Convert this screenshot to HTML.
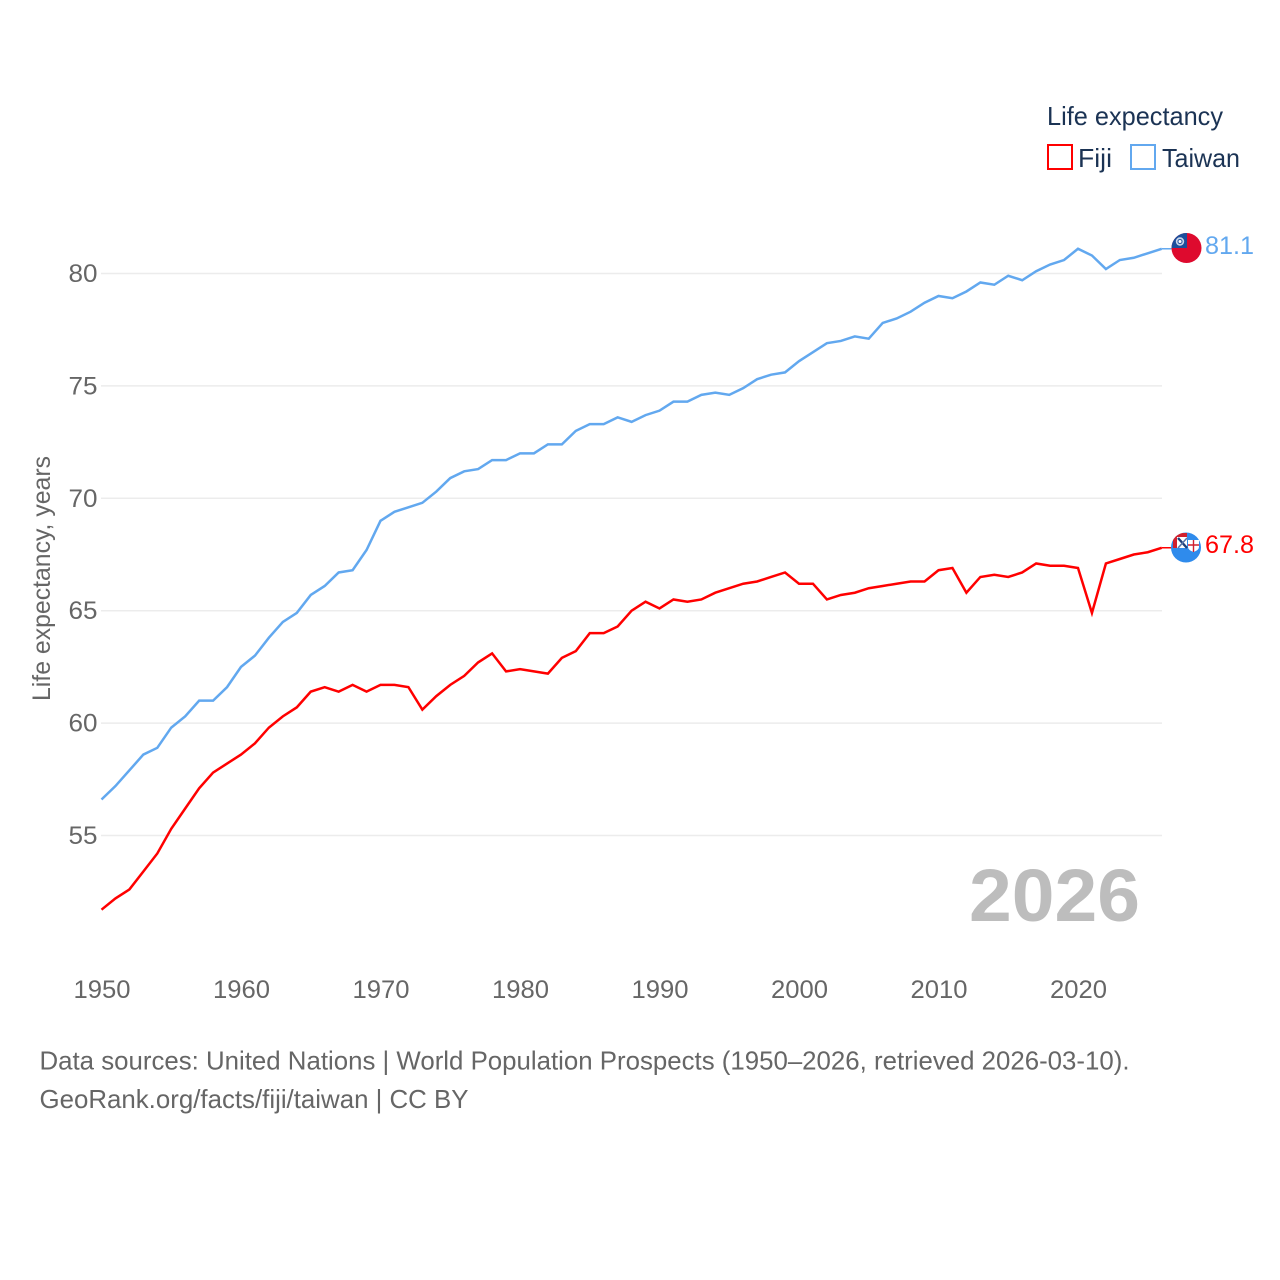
<!DOCTYPE html>
<html lang="en">
<head>
<meta charset="utf-8">
<title>Life expectancy: Fiji and Taiwan</title>
<style>
html,body{margin:0;padding:0;background:#fff;}
svg{display:block;}
text{font-family:"Liberation Sans",sans-serif;}
</style>
</head>
<body>
<svg id="chart" xmlns="http://www.w3.org/2000/svg" width="1280" height="1280" viewBox="0 0 1280 1280">
  <rect x="0" y="0" width="1280" height="1280" fill="#ffffff"/>
  <defs>
    <clipPath id="clip-taiwan"><circle cx="1186.5" cy="248" r="15"/></clipPath>
    <clipPath id="clip-fiji"><circle cx="1186" cy="547.5" r="15"/></clipPath>
  </defs>
  <g id="grid"></g>
  <g id="y-ticks"></g>
  <g id="x-ticks"></g>
  <text transform="translate(50,701) rotate(-90)" font-size="25" fill="#666666" textLength="245" lengthAdjust="spacingAndGlyphs">Life expectancy, years</text>
  <text x="969" y="921" font-size="74" font-weight="700" fill="#bdbdbd" textLength="171" lengthAdjust="spacingAndGlyphs">2026</text>
  <g id="series"></g>

  <g clip-path="url(#clip-taiwan)">
    <rect x="1171" y="233" width="31" height="31" fill="#de0a2e"/>
    <rect x="1171" y="233" width="16" height="15" fill="#1c4f9c"/>
    <circle cx="1180" cy="241.5" r="4.2" fill="#c9d6ea"/>
    <circle cx="1180" cy="241.5" r="2.6" fill="#2a5aa4"/>
    <circle cx="1180" cy="241.5" r="1.5" fill="#ffffff"/>
  </g>
  <g clip-path="url(#clip-fiji)">
    <rect x="1170" y="532" width="32" height="32" fill="#2f8bec"/>
    <rect x="1173" y="533" width="14" height="15" fill="#ffffff"/>
    <rect x="1173" y="533" width="14" height="4" fill="#d0202e"/>
    <rect x="1173" y="533" width="4" height="15" fill="#d0202e"/>
    <path d="M1178 538 L1187 548" stroke="#1d3f7a" stroke-width="2.4" fill="none"/>
    <path d="M1187 538 L1178 548" stroke="#5a76a8" stroke-width="1.6" fill="none"/>
    <path d="M1188 540 h11 v7 q0 3 -5.500 5 q-5.500 -2 -5.500 -5 z" fill="#ffffff"/>
    <path d="M1193.500 540 v12 M1188 545 h11" stroke="#d0202e" stroke-width="1.4" fill="none"/>
  </g>

  <text x="1205" y="254" font-size="25" fill="#62a8ef" textLength="49" lengthAdjust="spacingAndGlyphs">81.1</text>
  <text x="1205" y="553" font-size="25" fill="#ff0000" textLength="49" lengthAdjust="spacingAndGlyphs">67.8</text>

  <g>
    <text x="1047" y="125" font-size="26" fill="#1b3354" textLength="176" lengthAdjust="spacingAndGlyphs">Life expectancy</text>
    <g>
      <rect x="1048" y="145" width="24" height="24" fill="#ffffff" stroke="#ff0000" stroke-width="2"/>
      <text x="1078" y="167" font-size="26" fill="#1b3354" textLength="34" lengthAdjust="spacingAndGlyphs">Fiji</text>
    </g>
    <g>
      <rect x="1131" y="145" width="24" height="24" fill="#ffffff" stroke="#62a8ef" stroke-width="2"/>
      <text x="1162" y="167" font-size="26" fill="#1b3354" textLength="78" lengthAdjust="spacingAndGlyphs">Taiwan</text>
    </g>
  </g>

  <text x="39.500" y="1069.500" font-size="26" fill="#666666" textLength="1090" lengthAdjust="spacingAndGlyphs">Data sources: United Nations | World Population Prospects (1950–2026, retrieved 2026-03-10).</text>
  <text x="39.500" y="1108" font-size="26" fill="#666666" textLength="429" lengthAdjust="spacingAndGlyphs">GeoRank.org/facts/fiji/taiwan | CC BY</text>
</svg>
<script>
const startYear = 1950;
const yTickValues = [55, 60, 65, 70, 75, 80];
const xTickYears = [1950, 1960, 1970, 1980, 1990, 2000, 2010, 2020];
const taiwanValues = [
  56.6,57.2,57.9,58.6,58.9,59.8,60.3,61,61,61.6,
  62.5,63,63.8,64.5,64.9,65.7,66.1,66.7,66.8,67.7,
  69,69.4,69.6,69.8,70.3,70.9,71.2,71.3,71.7,71.7,
  72,72,72.4,72.4,73,73.3,73.3,73.6,73.4,73.7,
  73.9,74.3,74.3,74.6,74.7,74.6,74.9,75.3,75.5,75.6,
  76.1,76.5,76.9,77,77.2,77.1,77.8,78,78.3,78.7,
  79,78.9,79.2,79.6,79.5,79.9,79.7,80.1,80.4,80.6,
  81.1,80.8,80.2,80.6,80.7,80.9,81.1
];
const fijiValues = [
  51.7,52.2,52.6,53.4,54.2,55.3,56.2,57.1,57.8,58.2,
  58.6,59.1,59.8,60.3,60.7,61.4,61.6,61.4,61.7,61.4,
  61.7,61.7,61.6,60.6,61.2,61.7,62.1,62.7,63.1,62.3,
  62.4,62.3,62.2,62.9,63.2,64,64,64.3,65,65.4,
  65.1,65.5,65.4,65.5,65.8,66,66.2,66.3,66.5,66.7,
  66.2,66.2,65.5,65.7,65.8,66,66.1,66.2,66.3,66.3,
  66.8,66.9,65.8,66.5,66.6,66.5,66.7,67.1,67,67,
  66.9,64.9,67.1,67.3,67.5,67.6,67.8
];

const SVG_NS = 'http://www.w3.org/2000/svg';
function xScale(year) { return 101.5 + (year - 1950) * 13.95; }
function yScale(v) { return 273.5 + (80 - v) * 22.48; }

const gridGroup = document.getElementById('grid');
const yTickGroup = document.getElementById('y-ticks');
const xTickGroup = document.getElementById('x-ticks');
const seriesGroup = document.getElementById('series');

yTickValues.forEach(function (v) {
  const line = document.createElementNS(SVG_NS, 'line');
  
  
  line.setAttribute('x1', 101);
  line.setAttribute('x2', 1162);
  line.setAttribute('y1', yScale(v));
  line.setAttribute('y2', yScale(v));
  line.setAttribute('stroke', '#ececec');
  line.setAttribute('stroke-width', 1.5);
  gridGroup.appendChild(line);

  const label = document.createElementNS(SVG_NS, 'text');
  
  
  label.setAttribute('x', 68.5);
  label.setAttribute('y', yScale(v) + 8.5);
  label.setAttribute('font-size', 25);
  label.setAttribute('fill', '#666666');
  label.setAttribute('textLength', 29);
  label.setAttribute('lengthAdjust', 'spacingAndGlyphs');
  label.textContent = v;
  yTickGroup.appendChild(label);
});

xTickYears.forEach(function (year) {
  const label = document.createElementNS(SVG_NS, 'text');
  
  
  label.setAttribute('x', xScale(year) - 28);
  label.setAttribute('y', 998);
  label.setAttribute('font-size', 25);
  label.setAttribute('fill', '#666666');
  label.setAttribute('textLength', 57);
  label.setAttribute('lengthAdjust', 'spacingAndGlyphs');
  label.textContent = year;
  xTickGroup.appendChild(label);
});

function buildPoints(values) {
  return values.map(function (v, i) {
    return xScale(startYear + i).toFixed(2) + ',' + yScale(v).toFixed(2);
  }).join(' ');
}

const taiwanLine = document.createElementNS(SVG_NS, 'polyline');


taiwanLine.setAttribute('points', buildPoints(taiwanValues));
taiwanLine.setAttribute('fill', 'none');
taiwanLine.setAttribute('stroke', '#62a8ef');
taiwanLine.setAttribute('stroke-width', 2.5);
taiwanLine.setAttribute('stroke-linejoin', 'miter');
seriesGroup.appendChild(taiwanLine);

const fijiLine = document.createElementNS(SVG_NS, 'polyline');


fijiLine.setAttribute('points', buildPoints(fijiValues));
fijiLine.setAttribute('fill', 'none');
fijiLine.setAttribute('stroke', '#ff0000');
fijiLine.setAttribute('stroke-width', 2.5);
fijiLine.setAttribute('stroke-linejoin', 'miter');
seriesGroup.appendChild(fijiLine);

const lastIndex = taiwanValues.length - 1;
const lastYear = startYear + lastIndex;

const taiwanConnector = document.createElementNS(SVG_NS, 'line');


taiwanConnector.setAttribute('x1', xScale(lastYear));
taiwanConnector.setAttribute('x2', xScale(lastYear) + 10);
taiwanConnector.setAttribute('y1', yScale(taiwanValues[lastIndex]));
taiwanConnector.setAttribute('y2', yScale(taiwanValues[lastIndex]));
taiwanConnector.setAttribute('stroke', '#62a8ef');
taiwanConnector.setAttribute('stroke-width', 1.5);
seriesGroup.appendChild(taiwanConnector);

const fijiConnector = document.createElementNS(SVG_NS, 'line');


fijiConnector.setAttribute('x1', xScale(lastYear));
fijiConnector.setAttribute('x2', xScale(lastYear) + 10);
fijiConnector.setAttribute('y1', yScale(fijiValues[lastIndex]));
fijiConnector.setAttribute('y2', yScale(fijiValues[lastIndex]));
fijiConnector.setAttribute('stroke', '#ff0000');
fijiConnector.setAttribute('stroke-width', 1.5);
seriesGroup.appendChild(fijiConnector);
</script>
</body>
</html>
